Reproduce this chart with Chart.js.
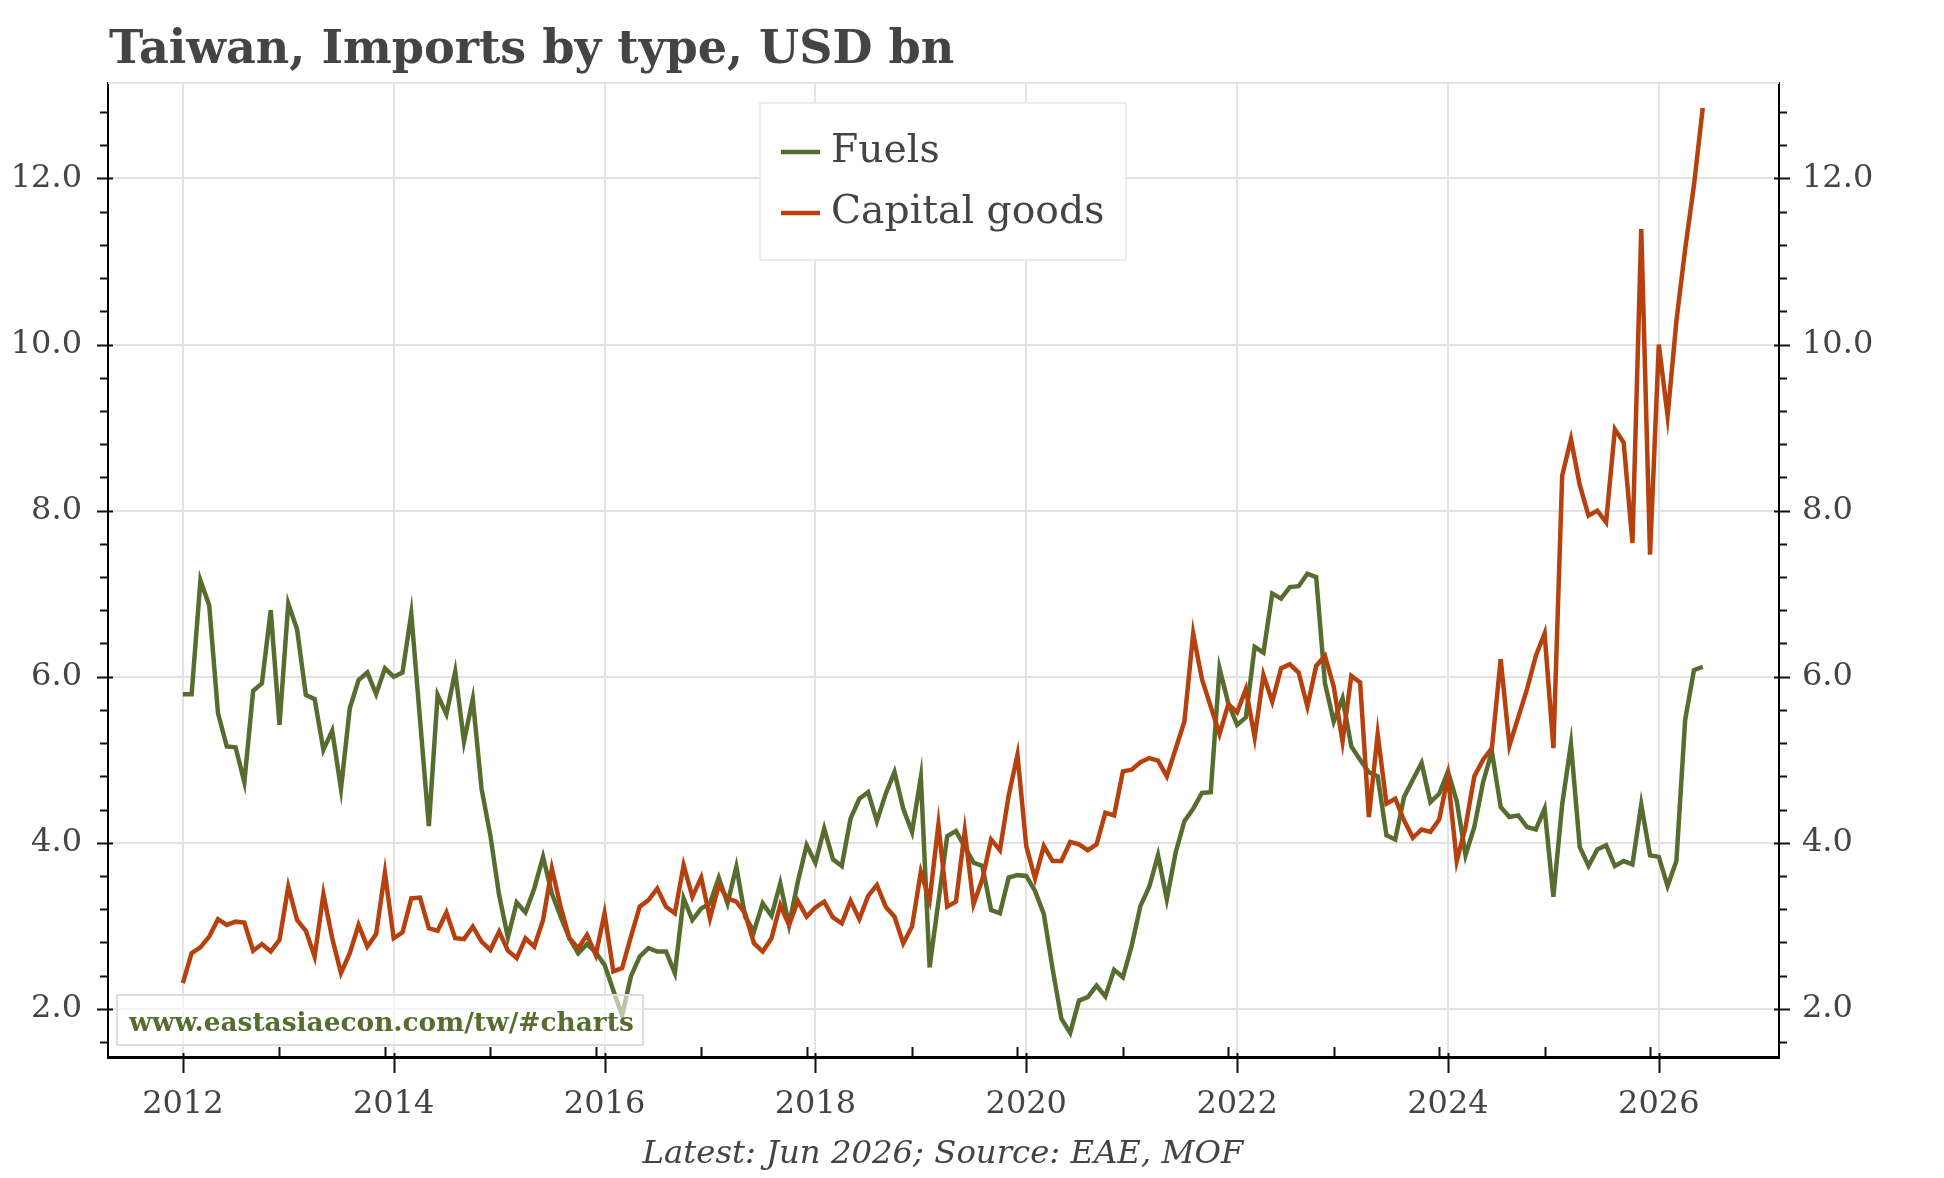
<!DOCTYPE html>
<html lang="en">
<head>
  <meta charset="UTF-8" />
  <title>Taiwan, Imports by type</title>
  <script src="https://cdn.jsdelivr.net/npm/chart.js"></script>
  <style>
    html, body { margin: 0; padding: 0; background: #fff; }
    #wrap { width: 1944px; height: 1178px; }
  </style>
</head>
<body>
  <div id="wrap"><canvas id="chart" width="1944" height="1178"></canvas></div>

  <script>
    // monthly, Jan 2012 .. Jun 2026
    const startYear = 2012;
    const fuels = [
      5.79, 5.79, 7.16, 6.86, 5.56, 5.16, 5.15, 4.73, 5.83, 5.92, 6.80, 5.42,
      6.88, 6.57, 5.78, 5.73, 5.12, 5.35, 4.65, 5.62, 5.96, 6.05, 5.79, 6.10,
      6.00, 6.05, 6.76, 5.48, 4.20, 5.78, 5.55, 6.06, 5.22, 5.73, 4.65, 4.09,
      3.37, 2.86, 3.28, 3.16, 3.45, 3.83, 3.39, 3.11, 2.85, 2.67, 2.78, 2.68,
      2.53, 2.22, 1.92, 2.39, 2.63, 2.73, 2.69, 2.69, 2.43, 3.33, 3.07, 3.21,
      3.27, 3.58, 3.27, 3.71, 3.11, 2.93, 3.27, 3.12, 3.51, 3.01, 3.53, 3.97,
      3.76, 4.17, 3.80, 3.72, 4.29, 4.53, 4.61, 4.26, 4.59, 4.85, 4.41, 4.13,
      4.79, 2.50, 3.29, 4.08, 4.14, 3.95, 3.76, 3.72, 3.19, 3.15, 3.58, 3.61,
      3.60, 3.42, 3.14, 2.48, 1.88, 1.71, 2.10, 2.14, 2.28, 2.15, 2.47, 2.38,
      2.76, 3.24, 3.47, 3.85, 3.32, 3.88, 4.26, 4.41, 4.60, 4.61, 6.10, 5.68,
      5.42, 5.51, 6.36, 6.29, 7.00, 6.94, 7.08, 7.09, 7.24, 7.20, 5.92, 5.46,
      5.74, 5.16, 5.00, 4.85, 4.80, 4.09, 4.04, 4.55, 4.76, 4.96, 4.49, 4.59,
      4.86, 4.50, 3.85, 4.19, 4.73, 5.10, 4.43, 4.31, 4.33, 4.19, 4.16, 4.41,
      3.35, 4.46, 5.19, 3.95, 3.72, 3.92, 3.97, 3.72, 3.78, 3.74, 4.46, 3.85,
      3.83, 3.48, 3.78, 5.48, 6.08, 6.12
    ];
    const capitalGoods = [
      2.31, 2.67, 2.74, 2.87, 3.08, 3.01, 3.05, 3.04, 2.70, 2.78, 2.69, 2.83,
      3.47, 3.07, 2.94, 2.63, 3.38, 2.85, 2.43, 2.67, 3.01, 2.75, 2.90, 3.64,
      2.85, 2.92, 3.33, 3.34, 2.97, 2.94, 3.16, 2.85, 2.84, 2.99, 2.81, 2.71,
      2.93, 2.70, 2.61, 2.85, 2.75, 3.07, 3.69, 3.23, 2.85, 2.73, 2.89, 2.65,
      3.15, 2.45, 2.49, 2.87, 3.23, 3.31, 3.45, 3.23, 3.15, 3.73, 3.35, 3.58,
      3.09, 3.49, 3.33, 3.29, 3.15, 2.79, 2.69, 2.85, 3.25, 3.01, 3.30, 3.11,
      3.22, 3.29, 3.10, 3.03, 3.30, 3.08, 3.36, 3.49, 3.23, 3.11, 2.79, 2.99,
      3.65, 3.31, 4.22, 3.23, 3.29, 4.14, 3.26, 3.56, 4.04, 3.91, 4.57, 5.06,
      3.96, 3.57, 3.96, 3.78, 3.78, 4.01, 3.98, 3.91, 3.98, 4.36, 4.33, 4.86,
      4.88, 4.97, 5.02, 4.99, 4.80, 5.13, 5.46, 6.52, 5.97, 5.64, 5.31, 5.67,
      5.57, 5.85, 5.27, 6.02, 5.70, 6.10, 6.15, 6.05, 5.64, 6.13, 6.25, 5.88,
      5.22, 6.01, 5.93, 4.31, 5.31, 4.47, 4.53, 4.27, 4.06, 4.16, 4.13, 4.28,
      4.80, 3.78, 4.19, 4.80, 5.00, 5.14, 6.21, 5.17, 5.51, 5.85, 6.25, 6.52,
      5.14, 8.42, 8.86, 8.31, 7.94, 8.00, 7.86, 8.98, 8.82, 7.61, 11.39, 7.47,
      10.00, 9.14, 10.28, 11.15, 11.92, 12.85
    ];
    const seriesNames = ['Fuels', 'Capital goods'];
    const yearTicks = [2012, 2014, 2016, 2018, 2020, 2022, 2024, 2026];
    const valueTicks = [2, 4, 6, 8, 10, 12];

    const GREEN = '#566d2f';
    const RED = '#b7410e';
    const TEXT = '#444444';
    const FONT = "'DejaVu Serif', 'Liberation Serif', serif";

    const toPoints = arr => arr.map((v, i) => ({ x: startYear + i / 12, y: v }));

    // size a font so that text fills a given width
    function fitFont(ctx, text, style, target) {
      ctx.font = style + ' 100px ' + FONT;
      const w = ctx.measureText(text).width;
      return style + ' ' + (100 * target / w).toFixed(1) + 'px ' + FONT;
    }

    const decorations = {
      id: 'decorations',
      afterDatasetsDraw(chart) {
        const ctx = chart.ctx;
        // watermark box over the lines
        ctx.save();
        ctx.fillStyle = 'rgba(255,255,255,0.6)';
        ctx.fillRect(117, 995, 526, 50);
        ctx.strokeStyle = '#dddddd';
        ctx.lineWidth = 2;
        ctx.strokeRect(117, 995, 526, 50);
        const wm = 'www.eastasiaecon.com/tw/#charts';
        ctx.font = fitFont(ctx, wm, 'bold', 505);
        ctx.fillStyle = GREEN;
        ctx.textBaseline = 'alphabetic';
        ctx.fillText(wm, 129, 1031);
        ctx.restore();
      },
      afterDraw(chart) {
        const ctx = chart.ctx;
        const a = chart.chartArea;
        const xs = chart.scales.x, yl = chart.scales.y;
        ctx.save();

        // light top frame
        ctx.strokeStyle = '#e3e3e3';
        ctx.lineWidth = 2;
        ctx.beginPath();
        ctx.moveTo(a.left, a.top);
        ctx.lineTo(a.right, a.top);
        ctx.stroke();

        // tick marks
        ctx.strokeStyle = '#111';
        ctx.lineWidth = 2;
        ctx.beginPath();
        yearTicks.forEach(v => {
          const px = Math.round(xs.getPixelForValue(v)) + 0.5;
          ctx.moveTo(px, a.bottom - 4);
          ctx.lineTo(px, a.bottom + 16);
        });
        for (let y = startYear; y < 2026; y++) {
          const px = Math.round(xs.getPixelForValue(y + 11 / 12)) + 0.5;
          ctx.moveTo(px, a.bottom - 10);
          ctx.lineTo(px, a.bottom);
        }
        for (let k = 0; k <= 28; k++) {
          const v = 1.6 + k * 0.4;
          const py = Math.round(yl.getPixelForValue(v)) + 0.5;
          const major = Math.abs(v / 2 - Math.round(v / 2)) < 1e-6;
          if (major) {
            ctx.moveTo(a.left - 11, py); ctx.lineTo(a.left + 5, py);
            ctx.moveTo(a.right - 5, py); ctx.lineTo(a.right + 11, py);
          } else {
            ctx.moveTo(a.left - 8, py); ctx.lineTo(a.left, py);
            ctx.moveTo(a.right, py); ctx.lineTo(a.right + 8, py);
          }
        }
        ctx.stroke();

        // title
        const title = 'Taiwan, Imports by type, USD bn';
        ctx.font = fitFont(ctx, title, 'bold', 846);
        ctx.fillStyle = TEXT;
        ctx.textAlign = 'left';
        ctx.textBaseline = 'alphabetic';
        ctx.fillText(title, 109, 63);

        // footer
        const foot = 'Latest: Jun 2026; Source: EAE, MOF';
        ctx.font = fitFont(ctx, foot, 'italic', 601);
        ctx.textAlign = 'center';
        ctx.fillText(foot, 943, 1163);

        // legend
        ctx.fillStyle = '#ffffff';
        ctx.fillRect(760, 103, 366, 157);
        ctx.strokeStyle = '#e6e6e6';
        ctx.lineWidth = 1.5;
        ctx.strokeRect(760, 103, 366, 157);
        const colors = [GREEN, RED];
        const rows = [152, 213];
        ctx.textAlign = 'left';
        ctx.textBaseline = 'middle';
        seriesNames.forEach((name, i) => {
          ctx.strokeStyle = colors[i];
          ctx.lineWidth = 4.5;
          ctx.beginPath();
          ctx.moveTo(781, rows[i]);
          ctx.lineTo(820, rows[i]);
          ctx.stroke();
          ctx.font = fitFont(ctx, 'Capital goods', 'normal', 273);
          ctx.fillStyle = TEXT;
          ctx.fillText(name, 831, rows[i]);
        });
        ctx.restore();
      }
    };

    const gridColor = '#e3e3e3';
    const tickFont = { family: FONT, size: 32 };

    new Chart(document.getElementById('chart'), {
      type: 'line',
      data: {
        datasets: [
          {
            label: seriesNames[0],
            data: toPoints(fuels),
            borderColor: GREEN,
            borderWidth: 4.5,
            pointRadius: 0,
            order: 1
          },
          {
            label: seriesNames[1],
            data: toPoints(capitalGoods),
            borderColor: RED,
            borderWidth: 4.5,
            pointRadius: 0,
            order: 0
          }
        ]
      },
      options: {
        responsive: false,
        animation: false,
        devicePixelRatio: 1,
        layout: { padding: { top: 83, left: 0, right: 0, bottom: 0 } },
        plugins: {
          legend: { display: false },
          title: { display: false },
          tooltip: { enabled: false }
        },
        scales: {
          x: {
            type: 'linear',
            position: 'bottom',
            min: 2011.29,
            max: 2027.14,
            afterBuildTicks: s => { s.ticks = yearTicks.map(v => ({ value: v })); },
            afterFit: s => { s.height = 121; },
            grid: { color: gridColor, lineWidth: 2, drawTicks: false },
            border: { display: true, color: '#000', width: 3 },
            ticks: {
              color: TEXT, font: tickFont, padding: 28, maxRotation: 0,
              callback: v => String(v)
            }
          },
          y: {
            type: 'linear',
            position: 'left',
            min: 1.42,
            max: 13.15,
            afterBuildTicks: s => { s.ticks = valueTicks.map(v => ({ value: v })); },
            afterFit: s => { s.width = 108; },
            grid: { color: gridColor, lineWidth: 2, drawTicks: false },
            border: { display: true, color: '#000', width: 2 },
            ticks: { color: TEXT, font: tickFont, padding: 26, callback: v => v.toFixed(1) }
          },
          y2: {
            type: 'linear',
            position: 'right',
            min: 1.42,
            max: 13.15,
            afterBuildTicks: s => { s.ticks = valueTicks.map(v => ({ value: v })); },
            afterFit: s => { s.width = 165; },
            grid: { display: false, drawTicks: false },
            border: { display: true, color: '#000', width: 2 },
            ticks: { color: TEXT, font: tickFont, padding: 23, callback: v => v.toFixed(1) }
          }
        }
      },
      plugins: [decorations]
    });
  </script>
</body>
</html>
